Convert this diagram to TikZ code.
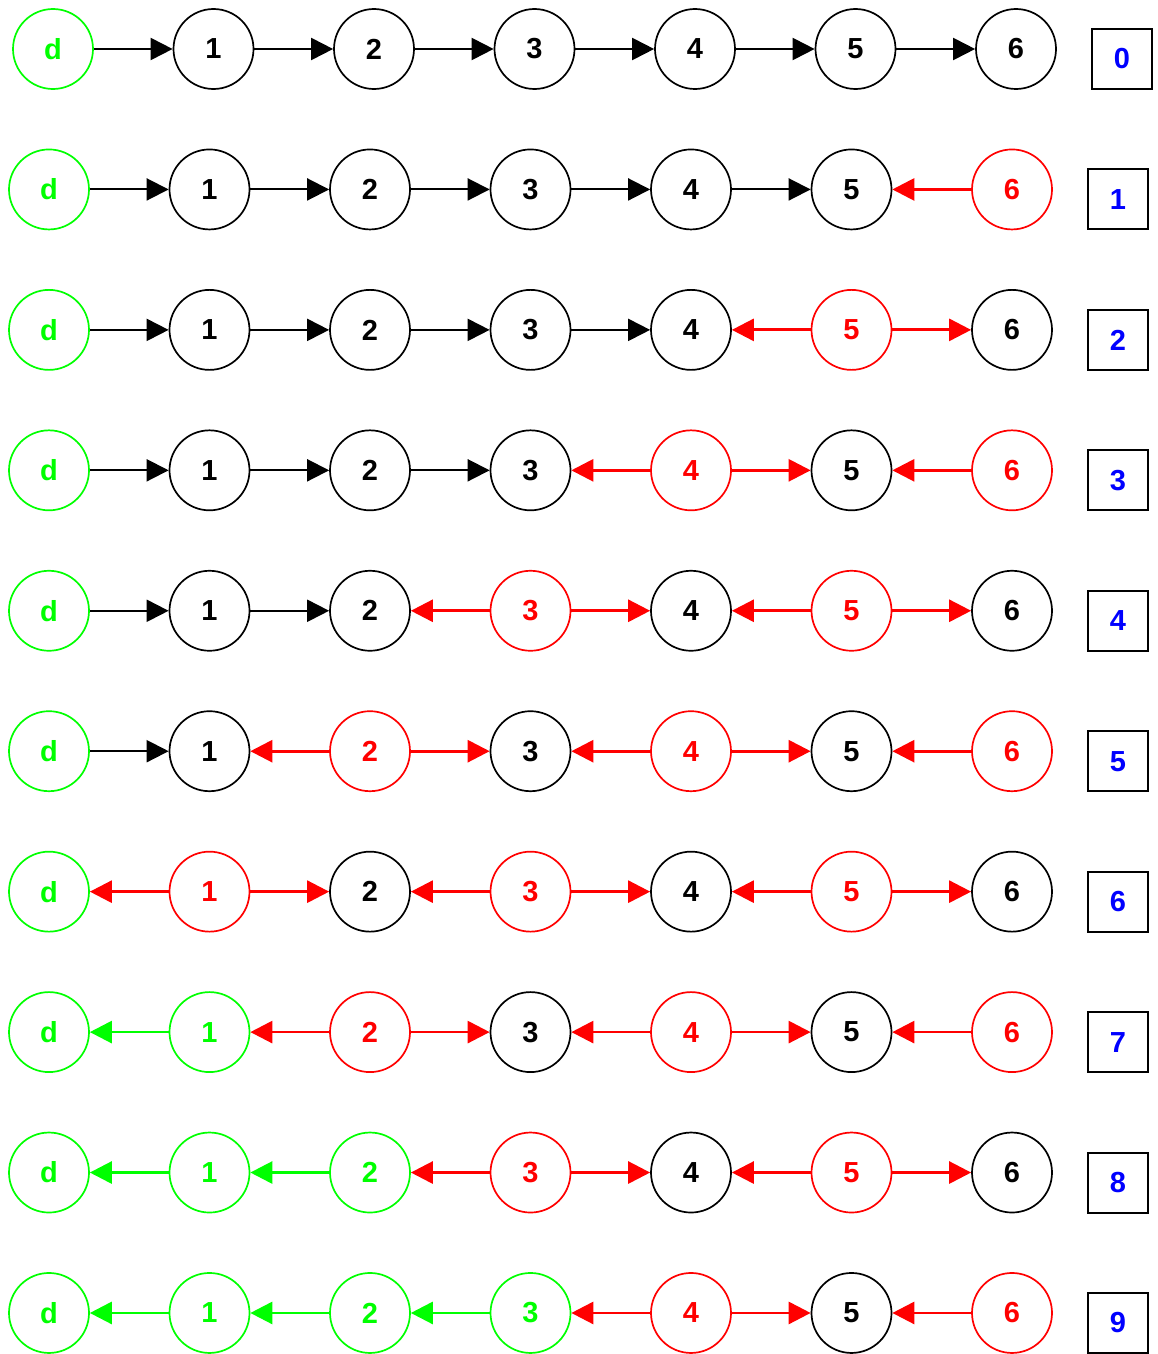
\documentclass[tikz,border=0pt]{standalone}
\usepackage{fontspec}
\setmainfont{Liberation Sans}
\usetikzlibrary{arrows.meta}

\begin{document}
\begin{tikzpicture}[
    x=1pt, y=-1pt,
    vertex/.style={
        circle,
        draw=#1,
        text=#1,
        line width=1.7pt,
        minimum size=80pt,
        inner sep=0pt,
        font=\fontsize{29}{29}\selectfont\bfseries
    },
    stagebox/.style={
        draw,
        line width=2pt,
        minimum size=60pt,
        inner sep=0pt,
        text=blue,
        font=\fontsize{29}{29}\selectfont\bfseries
    },
    hop/.style={draw=#1, line width=2pt, hopw/#1/.try, -{Triangle[length=22pt, width=22pt]}},
    hopw/red/.style={line width=2.8pt},
    hopw/green/.style={line width=2.8pt}
]

\useasboundingbox (0,0) rectangle (1157,1354);

\foreach \r/\cols/\edges in {
  0/{green,black,black,black,black,black,black}/{0/1/black,1/2/black,2/3/black,3/4/black,4/5/black,5/6/black},
  1/{green,black,black,black,black,black,red}/{0/1/black,1/2/black,2/3/black,3/4/black,4/5/black,6/5/red},
  2/{green,black,black,black,black,red,black}/{0/1/black,1/2/black,2/3/black,3/4/black,5/4/red,5/6/red},
  3/{green,black,black,black,red,black,red}/{0/1/black,1/2/black,2/3/black,4/3/red,4/5/red,6/5/red},
  4/{green,black,black,red,black,red,black}/{0/1/black,1/2/black,3/2/red,3/4/red,5/4/red,5/6/red},
  5/{green,black,red,black,red,black,red}/{0/1/black,2/1/red,2/3/red,4/3/red,4/5/red,6/5/red},
  6/{green,red,black,red,black,red,black}/{1/0/red,1/2/red,3/2/red,3/4/red,5/4/red,5/6/red},
  7/{green,green,red,black,red,black,red}/{1/0/green,2/1/red,2/3/red,4/3/red,4/5/red,6/5/red},
  8/{green,green,green,red,black,red,black}/{1/0/green,2/1/green,3/2/red,3/4/red,5/4/red,5/6/red},
  9/{green,green,green,green,red,black,red}/{1/0/green,2/1/green,3/2/green,4/3/red,4/5/red,6/5/red}%
}{
  \pgfmathsetmacro{\yr}{49+140.44*\r}
  \pgfmathsetmacro{\xo}{\r==0 ? 53 : 49}
  \foreach \col [count=\i from 0] in \cols
    \node[vertex=\col] (n\r-\i) at ({\xo+160.5*\i},\yr) {\ifnum\i=0 d\else\i\fi};
  \node[stagebox] (b\r) at ({\xo+1069},{\yr+10}) {\r};
  \foreach \a/\b/\ecol in \edges
    \draw[hop=\ecol] (n\r-\a) -- (n\r-\b);
}

\end{tikzpicture}
\end{document}
